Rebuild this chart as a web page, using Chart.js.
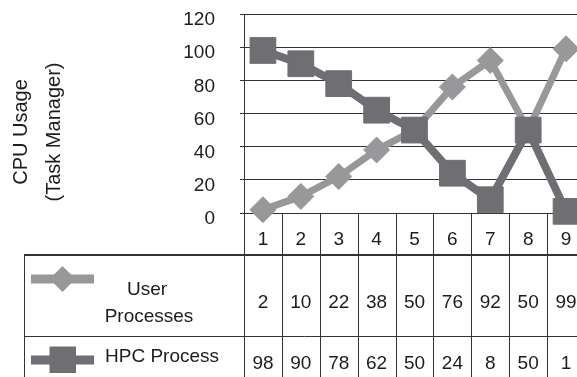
<!DOCTYPE html>
<html>
<head>
<meta charset="utf-8">
<script src="https://cdn.jsdelivr.net/npm/chart.js@4/dist/chart.umd.min.js"></script>
<style>
  html, body { margin: 0; padding: 0; background: #ffffff; overflow: hidden; }
  #wrap { position: relative; width: 600px; height: 377px; }
</style>
</head>
<body>
<div id="wrap"><canvas id="chart"></canvas></div>
<script>
// Sample numbers along the x axis
const categories = ['1', '2', '3', '4', '5', '6', '7', '8', '9'];
// CPU usage (%) reported by Task Manager
const userProcesses = [2, 10, 22, 38, 50, 76, 92, 50, 99];
const hpcProcess = [98, 90, 78, 62, 50, 24, 8, 50, 1];
// Value axis ticks
const yTicks = [0, 20, 40, 60, 80, 100, 120];
const yTitle = ['CPU Usage', '(Task Manager)'];
const seriesNames = ['User\nProcesses', 'HPC Process'];

const FONT = "'Liberation Sans', Arial, Helvetica, sans-serif";
const TEXT = '#1c1c1c';
const LINE = '#333333';
const USER_COLOR = '#98989a';
const HPC_COLOR = '#6f6f73';

// Draws the axis title and the data table beneath the plot
const dataTablePlugin = {
  id: 'dataTable',
  afterDraw(chart) {
    const ctx = chart.ctx;
    const x = chart.scales.x;
    const area = chart.chartArea;
    const left = area.left, right = area.right;
    const headTop = area.bottom, headBottom = 255, rowSplit = 336, tableLeft = 24, bottom = chart.height;
    const centers = categories.map((c, i) => x.getPixelForValue(i));
    const half = (centers[1] - centers[0]) / 2;

    ctx.save();
    // y-axis title, two rotated lines
    ctx.fillStyle = TEXT;
    ctx.font = '20px ' + FONT;
    ctx.textAlign = 'center';
    ctx.textBaseline = 'middle';
    yTitle.forEach((t, i) => {
      ctx.save();
      ctx.translate(21 + i * 33, 132);
      ctx.rotate(-Math.PI / 2);
      ctx.fillText(t, 0, 0);
      ctx.restore();
    });

    // table grid lines
    ctx.strokeStyle = LINE;
    ctx.lineWidth = 1;
    ctx.beginPath();
    // column separators between categories
    for (let i = 1; i < categories.length; i++) {
      const bx = Math.round(centers[i] - half) + 0.5;
      ctx.moveTo(bx, headTop);
      ctx.lineTo(bx, bottom);
    }
    ctx.moveTo(right - 0.5, headTop);
    ctx.lineTo(right - 0.5, bottom);
    // axis line continued down through the table
    ctx.moveTo(left + 0.5, headTop);
    ctx.lineTo(left + 0.5, bottom);
    // table left border
    ctx.moveTo(tableLeft + 0.5, headBottom);
    ctx.lineTo(tableLeft + 0.5, bottom);
    // row separator
    ctx.moveTo(tableLeft, rowSplit + 0.5);
    ctx.lineTo(right, rowSplit + 0.5);
    ctx.stroke();
    // heavier line under the category header
    ctx.lineWidth = 2;
    ctx.beginPath();
    ctx.moveTo(tableLeft, headBottom);
    ctx.lineTo(right, headBottom);
    ctx.stroke();

    // category header and values
    ctx.font = '19px ' + FONT;
    ctx.textAlign = 'center';
    ctx.textBaseline = 'middle';
    categories.forEach((c, i) => {
      ctx.fillText(c, centers[i], 240);
      ctx.fillText(String(userProcesses[i]), centers[i], 303);
      ctx.fillText(String(hpcProcess[i]), centers[i], 364);
    });

    // series names
    ctx.textBaseline = 'alphabetic';
    const userLines = seriesNames[0].split('\n');
    ctx.fillText(userLines[0], 147, 295);
    ctx.fillText(userLines[1], 149, 322);
    ctx.textAlign = 'left';
    ctx.fillText(seriesNames[1], 105, 362);

    // legend keys
    ctx.lineWidth = 9;
    ctx.lineCap = 'butt';
    ctx.strokeStyle = USER_COLOR;
    ctx.beginPath(); ctx.moveTo(31, 279); ctx.lineTo(94, 279); ctx.stroke();
    ctx.fillStyle = USER_COLOR;
    ctx.beginPath();
    ctx.moveTo(49.5, 279); ctx.lineTo(62.5, 266); ctx.lineTo(75.5, 279); ctx.lineTo(62.5, 292);
    ctx.closePath(); ctx.fill();

    ctx.strokeStyle = HPC_COLOR;
    ctx.beginPath(); ctx.moveTo(31, 360); ctx.lineTo(94, 360); ctx.stroke();
    ctx.fillStyle = HPC_COLOR;
    ctx.fillRect(49.5, 346.5, 26.5, 26.5);
    ctx.restore();
  }
};

new Chart(document.getElementById('chart'), {
  type: 'line',
  data: {
    labels: categories,
    datasets: [
      {
        label: 'User Processes',
        data: userProcesses,
        borderColor: USER_COLOR,
        backgroundColor: USER_COLOR,
        borderWidth: 7,
        pointStyle: 'rectRot',
        pointRadius: 13,
        pointBorderWidth: 1,
        pointBackgroundColor: USER_COLOR,
        pointBorderColor: USER_COLOR,
        tension: 0,
        clip: false,
        order: 2
      },
      {
        label: 'HPC Process',
        data: hpcProcess,
        borderColor: HPC_COLOR,
        backgroundColor: HPC_COLOR,
        borderWidth: 8,
        pointStyle: 'rect',
        pointRadius: 18.2,
        pointBorderWidth: 1,
        pointBackgroundColor: HPC_COLOR,
        pointBorderColor: HPC_COLOR,
        tension: 0,
        clip: false,
        order: 1
      }
    ]
  },
  options: {
    responsive: true,
    maintainAspectRatio: false,
    animation: false,
    events: [],
    layout: { autoPadding: false, padding: { left: 0, right: 15, top: 14, bottom: 164 } },
    plugins: {
      legend: { display: false },
      tooltip: { enabled: false },
      title: { display: false }
    },
    scales: {
      x: {
        type: 'category',
        display: false,
        offset: true
      },
      y: {
        min: 0,
        max: 120,
        afterFit(scale) {
          scale.width = 244;
          scale.paddingTop = 0;
          scale.paddingBottom = 0;
        },
        afterBuildTicks(scale) { scale.ticks = yTicks.map(v => ({ value: v })); },
        grid: {
          color: LINE,
          lineWidth: 1,
          tickLength: 4,
          drawTicks: true
        },
        border: { display: true, color: LINE, width: 1 },
        ticks: {
          color: TEXT,
          font: { family: FONT, size: 19 },
          padding: 25,
          labelOffset: 6
        }
      }
    }
  },
  plugins: [dataTablePlugin]
});
</script>
</body>
</html>
